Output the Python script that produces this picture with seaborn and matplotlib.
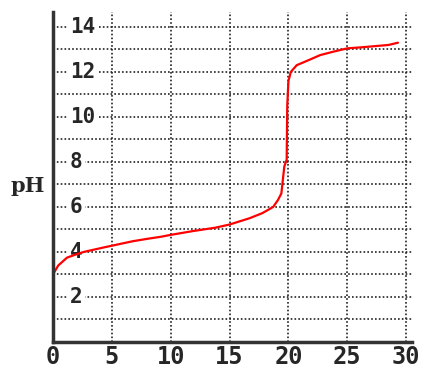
import matplotlib
matplotlib.use("Agg")
import matplotlib.pyplot as plt
import seaborn as sns
import pandas as pd

# Data
volume = [0, 0.45, 1.2, 1.9, 2.6, 4.3, 6.8, 8.2, 9.1, 10.0, 11.9, 13.8, 15.0,
          16.7, 17.8, 18.7, 19.1, 19.4, 19.65, 19.85, 19.9, 20.0, 20.2, 20.7,
          21.6, 22.7, 23.8, 25.0, 26.3, 28.5, 29.3]
ph = [3.0, 3.4, 3.75, 3.88, 4.0, 4.2, 4.48, 4.6, 4.67, 4.76, 4.93, 5.08, 5.22,
      5.5, 5.73, 6.0, 6.3, 6.6, 7.8, 8.1, 10.5, 11.6, 12.0, 12.3,
      12.5, 12.75, 12.9, 13.05, 13.1, 13.2, 13.3]
x_ticks = [0, 5, 10, 15, 20, 25, 30]
x_tick_labels = ["0", "5", "10", "15", "20", "25", "30"]
y_label_values = [2, 4, 6, 8, 10, 12, 14]
y_label_texts = ["2", "4", "6", "8", "10", "12", "14"]
y_axis_label = "pH"

df = pd.DataFrame({"volume": volume, "pH": ph})

sns.set_style("white")
fig = plt.figure(figsize=(4.27, 3.68), dpi=100)
ax = fig.add_axes([0.124, 0.0707, 0.841, 0.897])

sns.lineplot(data=df, x="volume", y="pH", ax=ax, color="#ff0000",
             linewidth=1.6, estimator=None, sort=False, zorder=5)

ax.set_xlim(0, 30.5)
ax.set_ylim(0, 14.67)

# grid
for v in range(1, 15):
    ax.axhline(v, color="#222222", lw=1.2, linestyle=(0, (1, 1.3)), zorder=1)
for v in x_ticks[1:]:
    ax.axvline(v, color="#222222", lw=1.2, linestyle=(0, (1, 1.3)), zorder=1)

ax.set_xticks(x_ticks)
ax.set_xticklabels(x_tick_labels, family="DejaVu Sans Mono", weight="bold",
                   fontsize=17)
ax.tick_params(axis="x", length=0, pad=2)
ax.set_yticks([])
ax.set_xlabel("")
ax.set_ylabel("")

for v, t in zip(y_label_values, y_label_texts):
    ax.text(1.45, v, t, ha="left", va="center", family="DejaVu Sans Mono",
            weight="bold", fontsize=15, zorder=3,
            bbox=dict(facecolor="white", edgecolor="none", pad=1.5))

for side in ["top", "right"]:
    ax.spines[side].set_visible(False)
for side in ["left", "bottom"]:
    ax.spines[side].set_color("#333333")
    ax.spines[side].set_linewidth(2.5)
    ax.spines[side].set_zorder(6)

fig.text(0.065, (368 - 186) / 368, y_axis_label, ha="center", va="center",
         family="DejaVu Serif", weight="bold", fontsize=15)

fig.savefig("out.png", dpi=100)
